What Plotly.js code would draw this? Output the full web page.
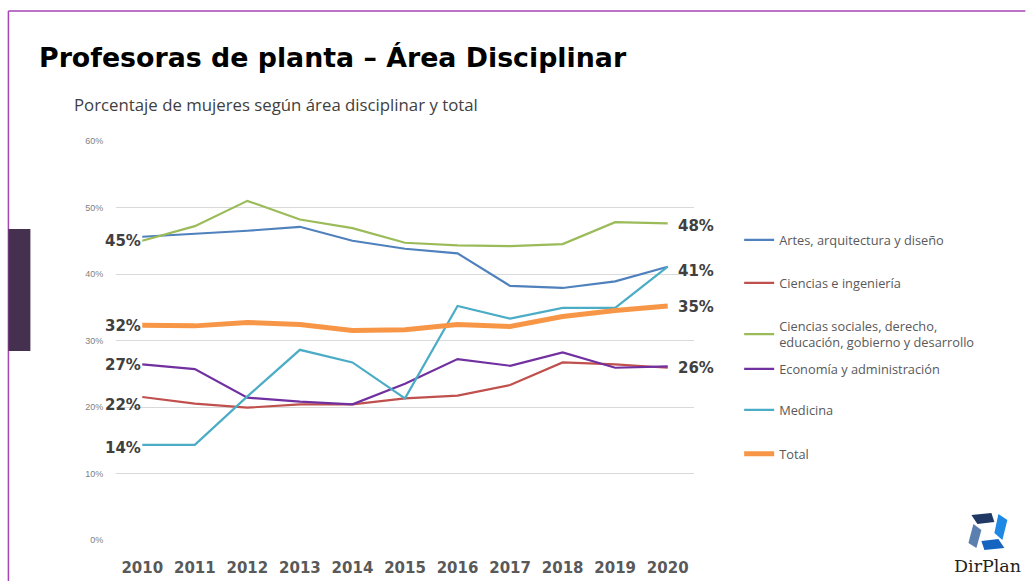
<!DOCTYPE html>
<html>
<head>
<meta charset="utf-8">
<script src="https://cdn.plot.ly/plotly-3.0.1.min.js"></script>
<style>html,body{margin:0;padding:0;background:#fff;}#chart{width:1026px;height:581px;}</style>
</head>
<body>
<div id="chart"></div>
<script>
const years = [2010, 2011, 2012, 2013, 2014, 2015, 2016, 2017, 2018, 2019, 2020];
const seriesNames = [
  "Artes, arquitectura y diseño",
  "Ciencias e ingeniería",
  "Ciencias sociales, derecho,<br>educación, gobierno y desarrollo",
  "Economía y administración",
  "Medicina",
  "Total"
];
const artes = [45.6, 46.0, 46.5, 47.1, 45.0, 43.8, 43.1, 38.2, 37.9, 38.9, 41.1];
const ciencias = [21.5, 20.5, 19.9, 20.4, 20.4, 21.3, 21.7, 23.3, 26.7, 26.4, 25.9];
const sociales = [45.0, 47.2, 51.0, 48.2, 46.9, 44.7, 44.3, 44.2, 44.5, 47.8, 47.6];
const economia = [26.4, 25.7, 21.4, 20.8, 20.4, 23.5, 27.2, 26.2, 28.2, 25.9, 26.1];
const medicina = [14.3, 14.3, 21.6, 28.6, 26.7, 21.3, 35.2, 33.3, 34.9, 34.9, 41.1];
const total = [32.3, 32.2, 32.7, 32.4, 31.5, 31.6, 32.4, 32.1, 33.6, 34.5, 35.2];
const colors = ["#4f81bd", "#c0504d", "#9bbb59", "#7030a0", "#4bacc6", "#f79646"];
const widths = [2.2, 2.2, 2.2, 2.2, 2.2, 5];
const startLabels = [["45%", 44.9], ["32%", 32.2], ["27%", 26.3], ["22%", 20.3], ["14%", 13.8]];
const endLabels = [["48%", 47.2], ["41%", 40.5], ["35%", 35.0], ["26%", 25.8]];
const yTicks = [0, 10, 20, 30, 40, 50, 60];
const yTickText = ["0%", "10%", "20%", "30%", "40%", "50%", "60%"];

// Canvas geometry (pixels)
const W = 1026, H = 581, L = 115.7, R = 331.7, T = 141, B = 41;
const pw = W - L - R, ph = H - T - B;
const px = x => (x - L) / pw;
const py = y => (H - B - y) / ph;

// legend first-line centres (pixels)
const legendY = [240, 283, 326, 369, 410, 454];

const allSeries = [artes, ciencias, sociales, economia, medicina, total];
const traces = allSeries.map((vals, i) => ({
  x: years, y: vals, type: "scatter", mode: "lines",
  name: seriesNames[i], legend: i === 0 ? "legend" : "legend" + (i + 1),
  line: {color: colors[i], width: widths[i]},
  hoverinfo: "skip"
}));

const labelFont = {family: "DejaVu Sans", size: 15, color: "#404040", weight: "bold"};
const annotations = [];
startLabels.forEach(([t, v]) => annotations.push({
  x: years[0], y: v, xref: "x", yref: "y", text: t, showarrow: false,
  xanchor: "right", xshift: 1, font: labelFont
}));
endLabels.forEach(([t, v]) => annotations.push({
  x: years[years.length - 1], y: v, xref: "x", yref: "y", text: t, showarrow: false,
  xanchor: "left", xshift: 8, font: labelFont
}));
annotations.push({
  x: px(37), y: py(57), xref: "paper", yref: "paper", text: "<b>Profesoras de planta – Área Disciplinar</b>",
  showarrow: false, xanchor: "left", yanchor: "middle",
  font: {family: "DejaVu Sans", size: 26.8, color: "#000"}
});
annotations.push({
  x: px(72), y: py(104), xref: "paper", yref: "paper", xanchor: "left", yanchor: "middle",
  text: "Porcentaje de mujeres según área disciplinar y total", showarrow: false,
  font: {family: "Open Sans", size: 16.8, color: "#404040"}
});
annotations.push({
  x: px(988), y: py(566), xref: "paper", yref: "paper",
  text: "DirPlan", showarrow: false, xanchor: "center", yanchor: "middle",
  font: {family: "DejaVu Serif", size: 17.5, color: "#222"}
});

const layout = {
  width: W, height: H,
  margin: {l: L, r: R, t: T, b: B},
  paper_bgcolor: "#fff", plot_bgcolor: "#fff",
  showlegend: true,
  xaxis: {
    range: [2009.5, 2020.5], tickvals: years, ticktext: years.map(String),
    showgrid: false, zeroline: false, showline: false,
    ticks: "outside", ticklen: 14, tickcolor: "rgba(0,0,0,0)",
    tickfont: {family: "DejaVu Sans", size: 15, color: "#595959", weight: "bold"}
  },
  yaxis: {
    range: [0, 60], tickvals: yTicks, ticktext: yTickText,
    showgrid: true, gridcolor: "#d9d9d9", gridwidth: 1,
    zeroline: false, showline: false,
    ticks: "outside", ticklen: 10, tickcolor: "rgba(0,0,0,0)",
    tickfont: {family: "Liberation Sans", size: 9, color: "#7f7f7f"}
  },
  annotations: annotations,
  shapes: [
    {type: "line", xref: "paper", yref: "paper", x0: px(8), x1: px(1026), y0: py(11), y1: py(11), line: {color: "#a545b5", width: 1.5}},
    {type: "line", xref: "paper", yref: "paper", x0: px(8), x1: px(8), y0: py(11), y1: py(581), line: {color: "#a545b5", width: 1.5}},
    {type: "rect", xref: "paper", yref: "paper", x0: px(8), x1: px(30), y0: py(229), y1: py(351), fillcolor: "#45304f", line: {width: 0}},
    {type: "path", xref: "paper", yref: "paper", path: `M ${px(972)} ${py(515)} L ${px(992)} ${py(513)} L ${px(995)} ${py(522)} L ${px(978)} ${py(524)} Z`, fillcolor: "#1f3864", line: {width: 0}},
    {type: "path", xref: "paper", yref: "paper", path: `M ${px(999)} ${py(514)} L ${px(1008)} ${py(520)} L ${px(1003)} ${py(540)} L ${px(995)} ${py(533)} Z`, fillcolor: "#1e88e5", line: {width: 0}},
    {type: "path", xref: "paper", yref: "paper", path: `M ${px(1005)} ${py(548)} L ${px(985)} ${py(550)} L ${px(982)} ${py(541)} L ${px(999)} ${py(539)} Z`, fillcolor: "#1565c0", line: {width: 0}},
    {type: "path", xref: "paper", yref: "paper", path: `M ${px(977)} ${py(548)} L ${px(969)} ${py(543)} L ${px(974)} ${py(524)} L ${px(982)} ${py(530)} Z`, fillcolor: "#5b7fae", line: {width: 0}}
  ]
};

legendY.forEach((yy, i) => {
  const key = i === 0 ? "legend" : "legend" + (i + 1);
  layout[key] = {
    x: px(739.5), xanchor: "left", y: py(yy - 15), yanchor: "top",
    font: {family: "Open Sans", size: 12.8, color: "#595959"},
    itemwidth: 30, bgcolor: "rgba(0,0,0,0)", borderwidth: 0
  };
});

Plotly.newPlot("chart", traces, layout, {displayModeBar: false, staticPlot: true});
</script>
</body>
</html>
